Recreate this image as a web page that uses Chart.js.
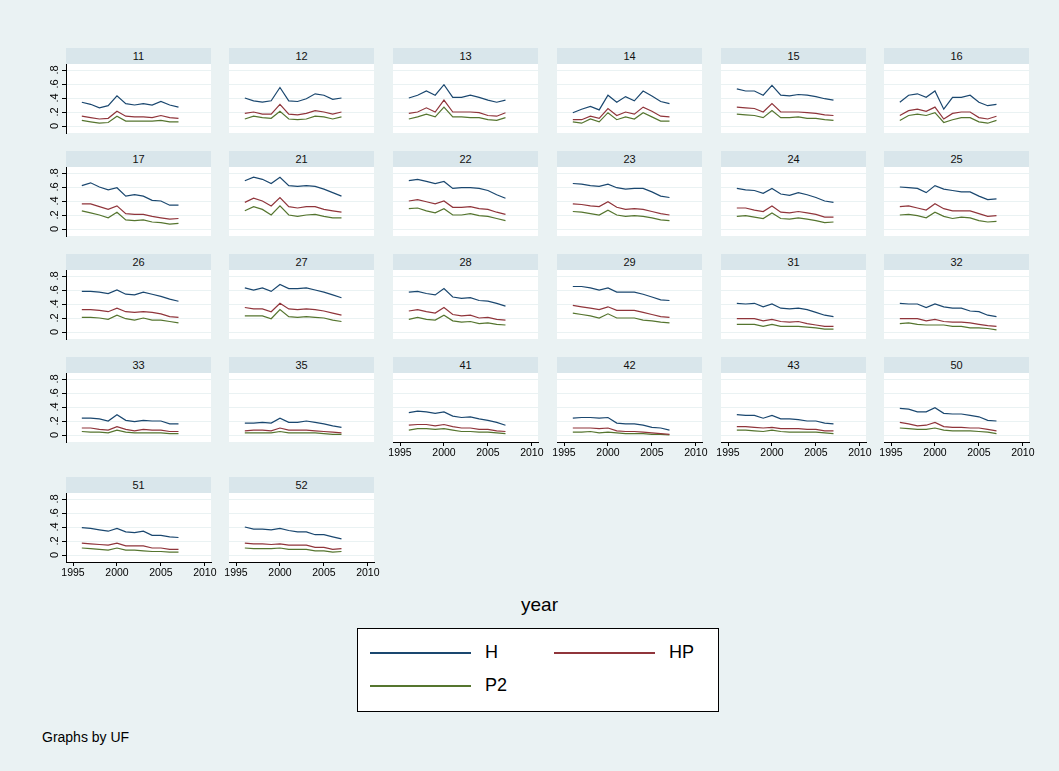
<!DOCTYPE html>
<html>
<head>
<meta charset="utf-8">
<script src="https://cdn.jsdelivr.net/npm/chart.js@4.4.0/dist/chart.umd.min.js"></script>
<style>
  body { margin: 0; background: #eaf2f3; font-family: "Liberation Sans", Arial, sans-serif; }
  #wrap { position: relative; width: 1059px; height: 771px; background: #eaf2f3; overflow: hidden; }
  .hdr { position: absolute; height: 16px; background: #d9e6eb; font-size: 11px; line-height: 16px; text-align: center; color: #111; }
  canvas { position: absolute; }
  .txt { position: absolute; color: #000; }
  #legend { position: absolute; left: 357px; top: 628px; width: 362px; height: 84px; background: #fff; border: 1px solid #000; box-sizing: border-box; }
  .lg-line { position: absolute; height: 2px; }
  .lg-lab { position: absolute; font-size: 18px; line-height: 20px; }
</style>
</head>
<body>
<div id="wrap"></div>
<script>
// ===== Data =====
const years = [1996, 1997, 1998, 1999, 2000, 2001, 2002, 2003, 2004, 2005, 2006, 2007];
const ufs = ["11","12","13","14","15","16","17","21","22","23","24","25","26","27","28","29","31","32","33","35","41","42","43","50","51","52"];
const yTicks = [0, 0.2, 0.4, 0.6, 0.8];
const yTickLabels = ["0", ".2", ".4", ".6", ".8"];
const xTicks = [1995, 2000, 2005, 2010];

const hVals = [
  [.34,.31,.26,.29,.43,.32,.30,.32,.30,.35,.30,.27],
  [.40,.36,.34,.36,.55,.36,.35,.39,.46,.44,.38,.40],
  [.40,.44,.50,.44,.59,.41,.41,.44,.41,.37,.34,.37],
  [.19,.24,.28,.23,.44,.34,.42,.36,.50,.43,.35,.32],
  [.53,.50,.50,.44,.58,.44,.43,.45,.44,.42,.39,.37],
  [.34,.44,.46,.41,.50,.24,.41,.41,.44,.34,.29,.31],
  [.62,.66,.60,.56,.59,.47,.49,.47,.41,.40,.34,.34],
  [.69,.74,.71,.65,.74,.62,.61,.62,.61,.57,.52,.47],
  [.69,.71,.68,.65,.68,.58,.59,.59,.58,.55,.49,.44],
  [.65,.64,.62,.61,.64,.59,.57,.58,.58,.53,.47,.45],
  [.58,.56,.55,.51,.58,.50,.48,.52,.49,.45,.40,.38],
  [.60,.59,.58,.52,.62,.57,.55,.53,.53,.47,.42,.43],
  [.58,.58,.57,.55,.60,.54,.53,.57,.54,.51,.47,.44],
  [.63,.60,.63,.58,.68,.62,.62,.63,.60,.57,.53,.49],
  [.57,.58,.55,.53,.62,.50,.48,.49,.45,.44,.41,.37],
  [.65,.65,.63,.60,.63,.57,.57,.57,.54,.50,.46,.45],
  [.41,.40,.41,.36,.40,.34,.33,.34,.32,.28,.24,.22],
  [.41,.40,.40,.35,.40,.36,.34,.34,.30,.29,.24,.22],
  [.24,.24,.23,.20,.29,.21,.19,.21,.20,.20,.16,.16],
  [.17,.17,.18,.17,.24,.18,.18,.20,.18,.16,.13,.11],
  [.32,.34,.33,.31,.33,.27,.25,.26,.23,.21,.18,.14],
  [.24,.25,.25,.24,.25,.17,.16,.16,.14,.11,.10,.07],
  [.29,.28,.28,.24,.28,.23,.23,.22,.20,.20,.17,.16],
  [.38,.37,.33,.33,.39,.31,.30,.30,.28,.26,.21,.20],
  [.39,.38,.36,.34,.38,.33,.32,.34,.28,.28,.26,.25],
  [.40,.37,.37,.36,.38,.35,.33,.33,.29,.29,.26,.23]
];
const hpVals = [
  [.14,.12,.10,.11,.21,.14,.13,.13,.12,.15,.12,.11],
  [.18,.20,.17,.17,.31,.17,.16,.18,.22,.20,.17,.20],
  [.18,.20,.26,.20,.37,.20,.20,.20,.19,.15,.14,.19],
  [.09,.09,.14,.11,.25,.15,.20,.17,.27,.21,.14,.13],
  [.27,.26,.25,.20,.32,.20,.20,.20,.19,.18,.16,.15],
  [.15,.22,.24,.21,.27,.10,.18,.20,.20,.12,.10,.14],
  [.36,.36,.32,.28,.33,.22,.21,.21,.18,.16,.14,.15],
  [.38,.44,.40,.33,.45,.32,.30,.32,.32,.28,.26,.24],
  [.40,.42,.39,.36,.40,.31,.31,.32,.29,.28,.24,.21],
  [.36,.35,.33,.32,.39,.31,.28,.29,.28,.25,.22,.20],
  [.30,.30,.27,.25,.33,.24,.23,.25,.23,.21,.17,.17],
  [.32,.33,.30,.27,.36,.29,.26,.26,.26,.22,.18,.19],
  [.32,.32,.31,.29,.34,.29,.28,.29,.28,.26,.22,.21],
  [.35,.33,.33,.29,.41,.33,.32,.33,.32,.30,.27,.24],
  [.30,.32,.29,.27,.35,.25,.23,.24,.20,.21,.18,.17],
  [.38,.36,.34,.32,.36,.31,.31,.31,.28,.25,.22,.21],
  [.19,.19,.19,.16,.18,.15,.14,.15,.12,.10,.08,.08],
  [.19,.19,.19,.16,.18,.15,.14,.14,.13,.11,.09,.08],
  [.10,.10,.08,.07,.12,.08,.06,.08,.07,.07,.05,.05],
  [.06,.07,.07,.06,.10,.07,.07,.07,.06,.05,.04,.03],
  [.14,.15,.15,.13,.15,.12,.10,.10,.08,.08,.06,.05],
  [.10,.10,.10,.09,.10,.06,.05,.05,.04,.03,.02,.01],
  [.12,.12,.11,.10,.11,.09,.09,.09,.08,.08,.06,.06],
  [.18,.16,.13,.14,.18,.12,.11,.11,.10,.10,.08,.06],
  [.17,.16,.15,.14,.17,.13,.13,.13,.10,.10,.08,.08],
  [.17,.16,.16,.15,.16,.14,.14,.14,.11,.11,.08,.09]
];
const p2Vals = [
  [.08,.06,.04,.05,.14,.07,.07,.07,.07,.08,.06,.06],
  [.10,.14,.12,.11,.21,.10,.09,.10,.14,.13,.10,.13],
  [.10,.13,.17,.13,.27,.13,.13,.12,.12,.09,.08,.12],
  [.06,.04,.10,.06,.19,.09,.13,.10,.19,.13,.07,.07],
  [.17,.16,.15,.12,.22,.12,.12,.13,.11,.11,.09,.08],
  [.08,.15,.17,.15,.19,.05,.09,.12,.12,.06,.04,.08],
  [.26,.23,.20,.16,.24,.13,.12,.13,.10,.09,.07,.08],
  [.26,.32,.28,.20,.33,.20,.18,.20,.21,.18,.16,.16],
  [.29,.30,.26,.23,.29,.20,.20,.22,.19,.18,.15,.12],
  [.25,.24,.22,.20,.27,.20,.18,.19,.18,.16,.13,.12],
  [.18,.19,.17,.15,.23,.15,.14,.16,.14,.12,.09,.10],
  [.20,.21,.19,.16,.24,.18,.15,.17,.16,.12,.10,.11],
  [.21,.21,.20,.18,.24,.19,.17,.20,.17,.17,.15,.13],
  [.23,.23,.23,.19,.32,.22,.21,.22,.21,.20,.17,.15],
  [.18,.21,.18,.17,.24,.16,.14,.15,.12,.13,.11,.10],
  [.27,.25,.23,.20,.26,.20,.20,.20,.17,.16,.14,.13],
  [.11,.11,.11,.08,.11,.08,.08,.08,.07,.06,.04,.04],
  [.12,.13,.11,.10,.10,.10,.08,.08,.06,.06,.05,.03],
  [.05,.04,.04,.03,.07,.04,.03,.03,.03,.03,.02,.02],
  [.03,.03,.03,.03,.05,.03,.03,.03,.03,.02,.01,.01],
  [.07,.09,.09,.08,.09,.07,.05,.05,.04,.04,.03,.02],
  [.04,.04,.05,.03,.04,.03,.02,.02,.02,.01,.01,.00],
  [.07,.07,.06,.05,.07,.05,.04,.04,.04,.04,.03,.02],
  [.10,.09,.08,.08,.10,.07,.06,.06,.06,.05,.04,.02],
  [.10,.09,.08,.07,.10,.07,.07,.06,.05,.05,.04,.04],
  [.10,.09,.09,.09,.10,.08,.08,.08,.06,.06,.04,.05]
];

const seriesNames = ["H", "HP", "P2"];
const seriesColors = ["#1a476f", "#90353b", "#55752f"];

// ===== Layout =====
const colX = [66, 229, 393, 557, 721, 884];
const rowTop = [48, 151, 254, 357, 477];
const plotW = 145, plotH = 69, hdrH = 16;
const padL = 40, padR = 16, padB = 24;
const FONT = '"Liberation Sans", Arial, sans-serif';
const wrap = document.getElementById("wrap");

// white plot area
const plotBg = {
  id: "plotBg",
  beforeDraw(chart) {
    const a = chart.chartArea, c = chart.ctx;
    c.save();
    c.fillStyle = "#fff";
    c.fillRect(a.left, a.top, a.right - a.left, a.bottom - a.top);
    c.restore();
  }
};

// rotated y labels, like Stata
const yLabels = {
  id: "yLabels",
  afterDraw(chart) {
    if (!chart.options.plugins.yLabels.show) return;
    const c = chart.ctx, y = chart.scales.y;
    c.save();
    c.fillStyle = "#000";
    c.font = "11px " + FONT;
    c.textAlign = "center";
    c.textBaseline = "alphabetic";
    yTicks.forEach((v, i) => {
      c.save();
      c.translate(chart.chartArea.left - 8, y.getPixelForValue(v));
      c.rotate(-Math.PI / 2);
      c.fillText(yTickLabels[i], 0, 0);
      c.restore();
    });
    c.restore();
  }
};

const nRows = Math.ceil(ufs.length / 6);

ufs.forEach((uf, i) => {
  const r = Math.floor(i / 6), col = i % 6;
  const left = colX[col], top = rowTop[r];
  const firstCol = col === 0;
  const bottom = (i + 6) >= ufs.length;

  const hdr = document.createElement("div");
  hdr.className = "hdr";
  hdr.style.left = left + "px";
  hdr.style.top = top + "px";
  hdr.style.width = plotW + "px";
  hdr.textContent = uf;
  wrap.appendChild(hdr);

  const cv = document.createElement("canvas");
  const w = padL + plotW + padR, h = plotH + padB + 2;
  cv.width = w; cv.height = h;
  cv.style.width = w + "px"; cv.style.height = h + "px";
  cv.style.left = (left - padL) + "px";
  cv.style.top = (top + hdrH - 2) + "px";
  wrap.appendChild(cv);

  const vals = [hVals[i], hpVals[i], p2Vals[i]];
  new Chart(cv.getContext("2d"), {
    type: "line",
    data: {
      datasets: vals.map((arr, k) => ({
        label: seriesNames[k],
        data: years.map((yr, j) => ({ x: yr, y: arr[j] })),
        borderColor: seriesColors[k],
        borderWidth: 1.2,
        pointRadius: 0,
        fill: false,
        tension: 0
      }))
    },
    options: {
      responsive: false,
      animation: false,
      events: [],
      layout: { padding: { top: 2, right: padR, left: 0, bottom: 0 } },
      plugins: { legend: { display: false }, tooltip: { enabled: false }, yLabels: { show: firstCol } },
      scales: {
        x: {
          type: "linear",
          min: 1994.2, max: 2010.7,
          afterBuildTicks: s => { s.ticks = xTicks.map(v => ({ value: v })); },
          afterFit: s => { s.height = padB; },
          border: { display: bottom, color: "#000", width: 1 },
          grid: { drawOnChartArea: false, drawTicks: bottom, tickLength: 4, tickColor: "#000" },
          ticks: {
            display: bottom, color: "#000", padding: 1, maxRotation: 0, autoSkip: false,
            font: { family: FONT, size: 10.5 },
            callback: v => String(v)
          }
        },
        y: {
          min: -0.1, max: 0.886,
          afterBuildTicks: s => { s.ticks = yTicks.map(v => ({ value: v })); },
          afterFit: s => { s.width = padL; },
          border: { display: firstCol, color: "#000", width: 1 },
          grid: { color: "#eaf2f3", lineWidth: 1, drawTicks: firstCol, tickLength: 4, tickColor: "#000" },
          ticks: { display: false }
        }
      }
    },
    plugins: [plotBg, yLabels]
  });
});

// ===== Axis title, legend, note =====
const yearTxt = document.createElement("div");
yearTxt.className = "txt";
yearTxt.style.cssText = "left:0;width:1079px;top:594px;text-align:center;font-size:19px;";
yearTxt.textContent = "year";
wrap.appendChild(yearTxt);

const lg = document.createElement("div");
lg.id = "legend";
wrap.appendChild(lg);
const lgPos = [[12, 23, 127], [196, 23, 311], [12, 56, 127]];
seriesNames.forEach((n, k) => {
  const [lx, ly, tx] = lgPos[k];
  const ln = document.createElement("div");
  ln.className = "lg-line";
  ln.style.cssText = `left:${lx}px;top:${ly}px;width:101px;background:${seriesColors[k]};`;
  lg.appendChild(ln);
  const lb = document.createElement("div");
  lb.className = "lg-lab";
  lb.style.cssText = `left:${tx}px;top:${ly - 10}px;`;
  lb.textContent = n;
  lg.appendChild(lb);
});

const note = document.createElement("div");
note.className = "txt";
note.style.cssText = "left:42px;top:729px;font-size:14px;";
note.textContent = "Graphs by UF";
wrap.appendChild(note);
</script>
</body>
</html>
